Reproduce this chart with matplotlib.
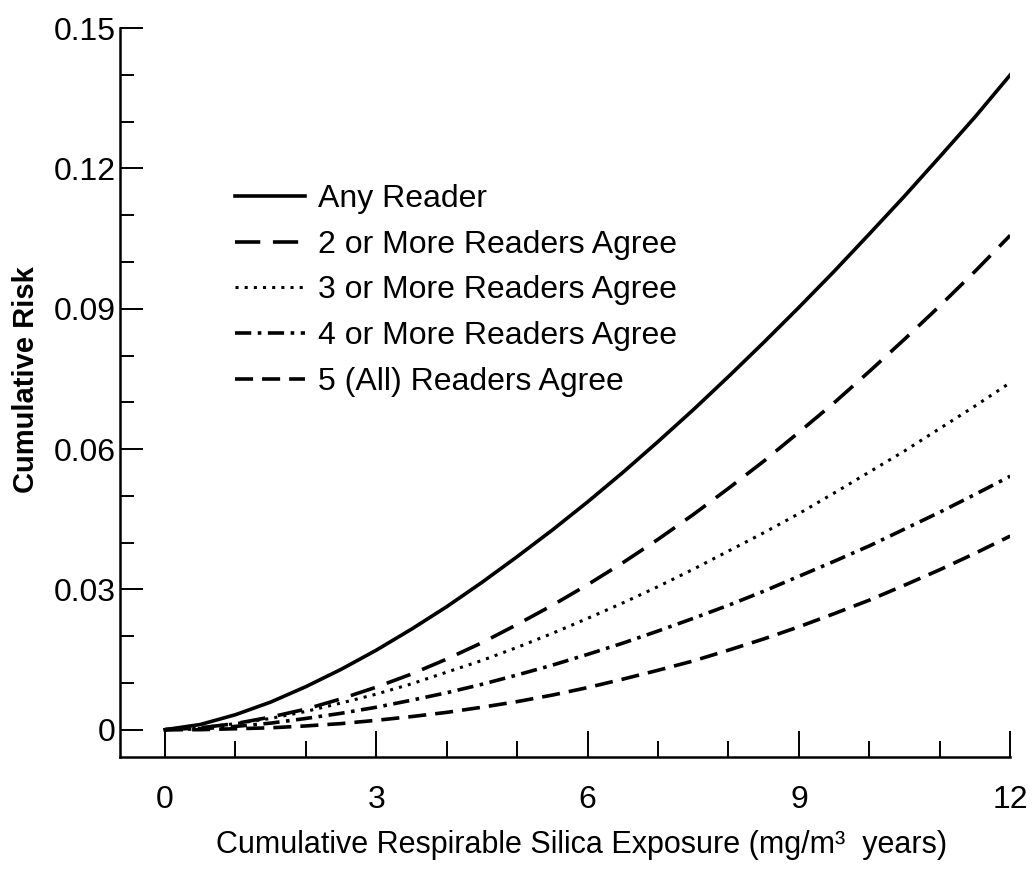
import matplotlib
matplotlib.use("Agg")
import matplotlib.pyplot as plt
from matplotlib.ticker import MultipleLocator, FixedLocator

plt.rcParams['font.family'] = ['Liberation Sans', 'DejaVu Sans']

# значения (x в мг/м3*лет, шаг 0.5)
exposure = [0, 0.5, 1, 1.5, 2, 2.5, 3, 3.5, 4, 4.5, 5, 5.5, 6,
            6.5, 7, 7.5, 8, 8.5, 9, 9.5, 10, 10.5, 11, 11.5, 12]
any_reader = [0, 0.0011, 0.0032, 0.0059, 0.0092, 0.0129, 0.0170, 0.0215, 0.0263, 0.0315, 0.0370, 0.0427, 0.0487,
              0.0550, 0.0616, 0.0684, 0.0755, 0.0828, 0.0903, 0.0980, 0.1060, 0.1141, 0.1225, 0.1310, 0.1400]
two_more = [0, 0.0004, 0.0013, 0.0027, 0.0044, 0.0066, 0.0091, 0.0119, 0.0151, 0.0186, 0.0225, 0.0266, 0.0310,
            0.0357, 0.0407, 0.0460, 0.0516, 0.0574, 0.0636, 0.0699, 0.0766, 0.0835, 0.0906, 0.0980, 0.1057]
three_more = [0, 0.0004, 0.0013, 0.0024, 0.0039, 0.0057, 0.0076, 0.0098, 0.0123, 0.0148, 0.0176, 0.0206, 0.0238,
              0.0271, 0.0306, 0.0343, 0.0382, 0.0421, 0.0462, 0.0506, 0.0551, 0.0596, 0.0644, 0.0692, 0.0742]
four_more = [0, 0.0002, 0.0007, 0.0014, 0.0024, 0.0035, 0.0048, 0.0063, 0.0079, 0.0097, 0.0117, 0.0138, 0.0161,
             0.0185, 0.0211, 0.0238, 0.0266, 0.0296, 0.0328, 0.0360, 0.0393, 0.0429, 0.0465, 0.0503, 0.0542]
five_all = [0, 0.0000, 0.0002, 0.0004, 0.0008, 0.0013, 0.0020, 0.0028, 0.0037, 0.0048, 0.0060, 0.0074, 0.0090,
            0.0108, 0.0127, 0.0147, 0.0170, 0.0194, 0.0220, 0.0248, 0.0277, 0.0309, 0.0342, 0.0377, 0.0414]

labels = ['Any Reader', '2 or More Readers Agree', '3 or More Readers Agree',
          '4 or More Readers Agree', '5 (All) Readers Agree']

x_major = [0, 3, 6, 9, 12]
y_major = [0, 0.03, 0.06, 0.09, 0.12, 0.15]
y_ticklabels = ['0', '0.03', '0.06', '0.09', '0.12', '0.15']

fig = plt.figure(figsize=(10.34, 8.8), dpi=100)
ax = fig.add_axes([0.116, 0.140, 0.861, 0.828])

lw = 2.6
ax.plot(exposure, any_reader, color='black', lw=lw, linestyle='-', label=labels[0])
ax.plot(exposure, two_more, color='black', lw=lw, linestyle=(0, (7, 3.5)), label=labels[1])
ax.plot(exposure, three_more, color='black', lw=2.2, linestyle=(0, (1, 2)), label=labels[2])
ax.plot(exposure, four_more, color='black', lw=lw, linestyle=(0, (4.5, 1.8, 1, 1.8)), label=labels[3])
ax.plot(exposure, five_all, color='black', lw=lw, linestyle=(0, (5, 2.5)), label=labels[4])

ax.set_xlim(-0.64, 12)
ax.set_ylim(-0.0058, 0.15)

ax.xaxis.set_major_locator(FixedLocator(x_major))
ax.xaxis.set_minor_locator(MultipleLocator(1))
ax.set_yticks(y_major)
ax.set_yticklabels(y_ticklabels)
ax.yaxis.set_minor_locator(MultipleLocator(0.01))

ax.spines['top'].set_visible(False)
ax.spines['right'].set_visible(False)
ax.spines['left'].set_linewidth(1.8)
ax.spines['bottom'].set_linewidth(1.8)

ax.tick_params(axis='x', which='major', direction='in', length=19, width=1.4, pad=20.5, labelsize=23)
ax.tick_params(axis='x', which='minor', direction='in', length=11.5, width=1.4)
ax.tick_params(axis='y', which='major', direction='in', length=16.5, width=1.4, pad=3, labelsize=23)
ax.tick_params(axis='y', which='minor', direction='in', length=10, width=1.4)

ax.set_xlabel('Cumulative Respirable Silica Exposure (mg/m³  years)', fontsize=22)
ax.xaxis.set_label_coords(0.518, -0.100)
ax.set_ylabel('Cumulative Risk', fontsize=21, fontweight='bold')
ax.yaxis.set_label_coords(-0.090, 0.517)

ax.legend(loc='upper left', bbox_to_anchor=(0.129, 0.786), frameon=False, fontsize=23,
          handlelength=2.19, handletextpad=0.41, labelspacing=0.49, borderpad=0, borderaxespad=0)

plt.savefig('out.png', dpi=100)
plt.close()
